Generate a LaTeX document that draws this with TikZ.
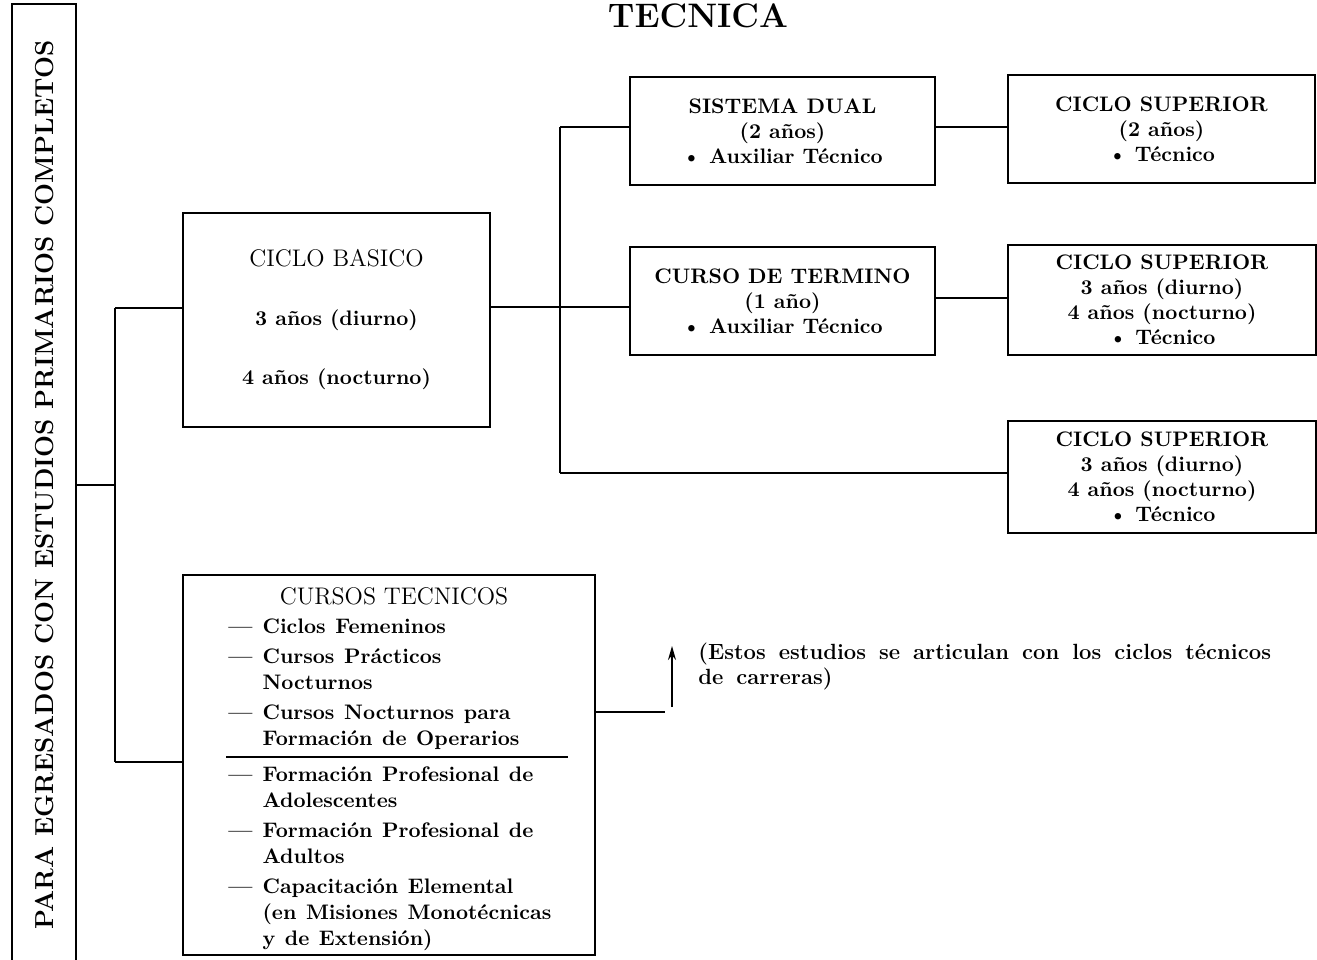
\documentclass[tikz,border=0pt]{standalone}
\usepackage{fontspec}
\usetikzlibrary{arrows.meta,positioning}
\newcommand{\widespacing}[1]{\spaceskip=#1 plus 1pt\relax}
\tikzset{
  box/.style={draw, line width=1.3pt, inner sep=0pt, align=center,
    font=\bfseries\fontsize{10.5}{12.5}\selectfont},
  plaintext/.style={inner sep=0pt, font=\bfseries\fontsize{10.5}{12.5}\selectfont\widespacing{4.8pt}},
  link/.style={line width=1pt},
}
\begin{document}
\begin{tikzpicture}[x=0.5pt,y=-0.5pt]
\useasboundingbox (0,0) rectangle (1317,959);

\node[inner sep=0pt, font=\bfseries\fontsize{17}{20}\selectfont] (title) at (698,16) {TECNICA};

\node[box, minimum width=32pt, minimum height=486pt] (egresados) at (44,490) {};
\node[rotate=90, inner sep=0pt, font=\bfseries\fontsize{13}{15}\selectfont] (egrtext) at (45,485) {PARA EGRESADOS CON ESTUDIOS PRIMARIOS COMPLETOS};

\node[box, minimum width=153.5pt, minimum height=107pt] (basico) at (336.5,320) {{\mdseries\fontsize{12}{14}\selectfont CICLO BASICO}\\[17pt] 3 años (diurno)\\[17pt] 4 años (nocturno)};
\node[box, minimum width=152.5pt, minimum height=54pt] (dual) at (782.5,131) {SISTEMA DUAL\\(2 años)\\\textbullet\ Auxiliar Técnico};
\node[box, minimum width=152.5pt, minimum height=54pt] (termino) at (782.5,301) {CURSO DE TERMINO\\(1 año)\\\textbullet\ Auxiliar Técnico};
\node[box, minimum width=153.5pt, minimum height=54pt] (supdual) at (1161.5,129) {CICLO SUPERIOR\\(2 años)\\\textbullet\ Técnico};
\node[box, minimum width=154pt, minimum height=55pt] (suptermino) at (1162,300) {CICLO SUPERIOR\\3 años (diurno)\\4 años (nocturno)\\\textbullet\ Técnico};
\node[box, minimum width=154pt, minimum height=56pt] (supbasico) at (1162,477) {CICLO SUPERIOR\\3 años (diurno)\\4 años (nocturno)\\\textbullet\ Técnico};

\node[box, minimum width=206pt, minimum height=190pt] (cursos) at (389,765) {};
\node[inner sep=0pt, font=\fontsize{12}{14}\selectfont] (cursostitle) at (394,596) {CURSOS TECNICOS};
\node[plaintext, anchor=base west] (cursoslist) at (228,633) {\renewcommand{\arraystretch}{1.04}%
  \begin{tabular}[t]{@{}l@{\hspace{5pt}}l@{}}
  --- & Ciclos Femeninos\\[2pt]
  --- & Cursos Prácticos\\
      & Nocturnos\\[2pt]
  --- & Cursos Nocturnos para\\
      & Formación de Operarios\\[5pt]
  --- & Formación Profesional de\\
      & Adolescentes\\[2pt]
  --- & Formación Profesional de\\
      & Adultos\\[2pt]
  --- & Capacitación Elemental\\
      & (en Misiones Monotécnicas\\
      & y de Extensión)
  \end{tabular}};
\coordinate (divleft) at (226,757);
\coordinate (divright) at (568,757);
\draw[link] (divleft) -- (divright);

\node[plaintext, anchor=north west, align=left, font=\bfseries\fontsize{11}{12.5}\selectfont\widespacing{6.5pt}] (note) at (698,643) {(Estos estudios se articulan con los ciclos técnicos\\de carreras)};

% junctions
\coordinate (j1) at (115,485);
\coordinate (j1top) at (115,308);
\coordinate (j1bot) at (115,762);
\coordinate (j2) at (560,307);
\coordinate (j2top) at (560,127);
\coordinate (j2bot) at (560,473);
\coordinate (j3) at (970,298);
\coordinate (j4) at (665,712);
\coordinate (arrowfoot) at (672,707);
\coordinate (arrowtip) at (672,646);

\draw[link] (j1 -| egresados.east) -- (j1);
\draw[link] (j1top) -- (j1bot);
\draw[link] (j1top) -- (j1top -| basico.west);
\draw[link] (j1bot) -- (j1bot -| cursos.west);
\draw[link] (j2 -| basico.east) -- (j2) -- (j2 -| termino.west);
\draw[link] (j2top) -- (j2bot);
\draw[link] (j2top) -- (j2top -| dual.west);
\draw[link] (j2bot) -- (j2bot -| supbasico.west);
\draw[link] (j2top -| dual.east) -- (j2top -| supdual.west);
\draw[link] (j3 -| termino.east) -- (j3 -| suptermino.west);
\draw[link] (j4 -| cursos.east) -- (j4);
\draw[line width=0.8pt, -{Stealth[length=7pt,width=4pt]}] (arrowfoot) -- (arrowtip);
\end{tikzpicture}
\end{document}
